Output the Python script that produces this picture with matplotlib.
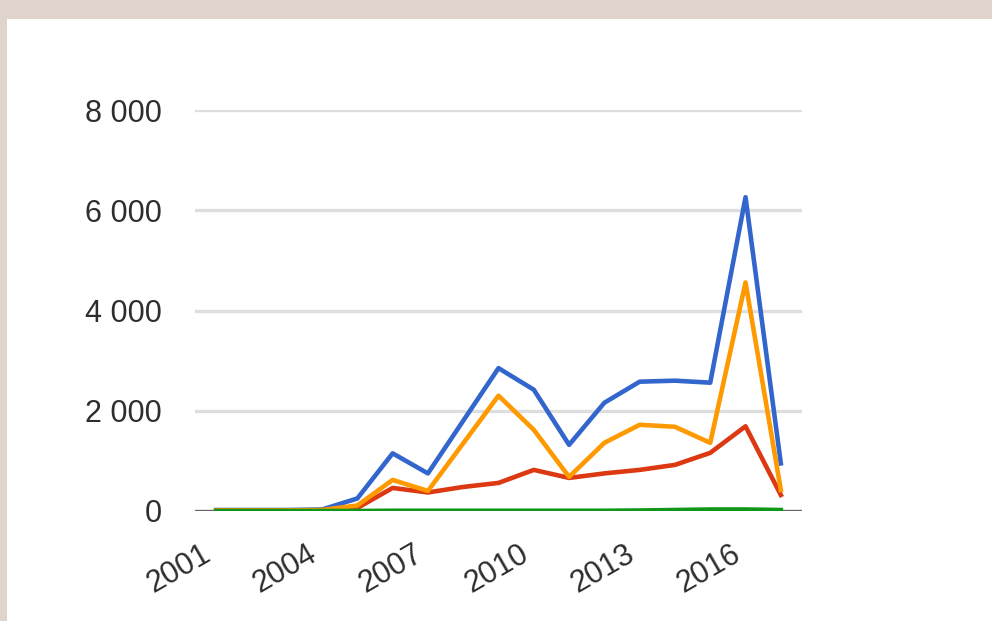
import matplotlib
matplotlib.use('Agg')
import matplotlib.pyplot as plt
from matplotlib.ticker import FuncFormatter

# -----------------------
# DATA
# -----------------------
years = list(range(2001, 2018))
blue = [20, 20, 20, 30, 250, 1150, 750, 1800, 2850, 2420, 1320, 2160, 2580, 2600, 2560, 6260, 950]
red = [10, 10, 10, 15, 60, 460, 370, 480, 560, 820, 660, 750, 820, 920, 1160, 1690, 320]
orange = [10, 10, 10, 20, 110, 620, 400, 1350, 2300, 1620, 680, 1360, 1720, 1680, 1360, 4560, 420]
green = [0, 0, 0, 0, 0, 5, 5, 5, 5, 5, 5, 5, 10, 20, 30, 30, 20]
ytick_values = [0, 2000, 4000, 6000, 8000]
xtick_years = [2001, 2004, 2007, 2010, 2013, 2016]

BEIGE = "#e0d4cc"
TEXT = "#2e2e2e"

fig = plt.figure(figsize=(9.92, 6.21), dpi=100, facecolor=BEIGE)
# white card behind the chart
fig.patches.append(plt.Rectangle((7 / 992, 0), 1, 1 - 19 / 621, transform=fig.transFigure,
                                 facecolor="white", edgecolor="none", zorder=-10))

ax = fig.add_axes([195 / 992, 1 - 511 / 621, (802 - 195) / 992, (511 - 110) / 621])
ax.set_facecolor("none")

lw = 3.3
ax.plot(years, blue, color="#3366cc", lw=lw, zorder=3)
ax.plot(years, red, color="#dc3912", lw=lw, zorder=4)
ax.plot(years, orange, color="#ff9900", lw=lw, zorder=5)
ax.plot(years, green, color="#109618", lw=lw, zorder=6)

ax.set_xlim(2000.4, 2017.6)
ax.set_ylim(0, 8000)

ax.set_yticks(ytick_values)
ax.yaxis.set_major_formatter(FuncFormatter(lambda v, p: f"{int(v):,}".replace(",", " ")))
ax.set_xticks(xtick_years)
ax.set_xticklabels([str(y) for y in xtick_years], rotation=30, ha="right")

for v in ytick_values[1:]:
    ax.axhline(v, color="#dedede", lw=2.4, zorder=1)
ax.axhline(0, color="#666666", lw=2.4, zorder=2)

for s in ax.spines.values():
    s.set_visible(False)
ax.tick_params(axis="both", length=0, labelsize=22, labelcolor=TEXT)
ax.tick_params(axis="y", pad=24)
ax.tick_params(axis="x", pad=20)
for lab in ax.get_xticklabels() + ax.get_yticklabels():
    lab.set_family(["Liberation Sans", "DejaVu Sans"])

fig.savefig("out.png", dpi=100, facecolor=BEIGE)
